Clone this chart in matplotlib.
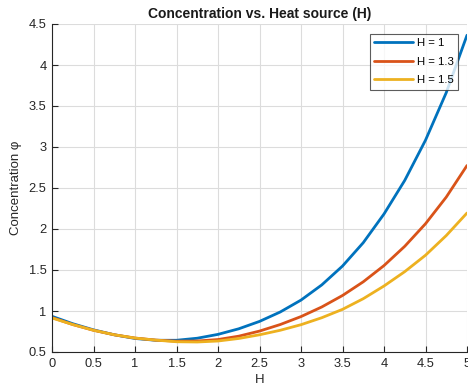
"""
Concentration vs. Heat source (H)
"""
import numpy as np
from matplotlib import pyplot as plt

plt.rcParams['font.family'] = ['Liberation Sans', 'DejaVu Sans']

h = [0, 0.25, 0.5, 0.75, 1, 1.25, 1.5, 1.75, 2, 2.25, 2.5,
     2.75, 3, 3.25, 3.5, 3.75, 4, 4.25, 4.5, 4.75, 5]

phi_h1 = [0.935, 0.845, 0.77, 0.71, 0.665, 0.643, 0.643, 0.668, 0.715, 0.783, 0.873,
          0.988, 1.133, 1.318, 1.548, 1.833, 2.183, 2.593, 3.083, 3.663, 4.363]
phi_h13 = [0.92, 0.835, 0.765, 0.71, 0.67, 0.645, 0.632, 0.634, 0.652, 0.693, 0.755,
           0.835, 0.932, 1.049, 1.189, 1.356, 1.554, 1.789, 2.064, 2.389, 2.774]
phi_h15 = [0.915, 0.835, 0.765, 0.71, 0.67, 0.645, 0.625, 0.622, 0.634, 0.665, 0.71,
           0.765, 0.833, 0.918, 1.02, 1.15, 1.305, 1.48, 1.68, 1.92, 2.195]

labels = ['H = 1', 'H = 1.3', 'H = 1.5']
colors = ['#0072BD', '#D95319', '#EDB120']

xticks = [0, 0.5, 1, 1.5, 2, 2.5, 3, 3.5, 4, 4.5, 5]
xticklabels = ['0', '0.5', '1', '1.5', '2', '2.5', '3', '3.5', '4', '4.5', '5']
yticks = [0.5, 1, 1.5, 2, 2.5, 3, 3.5, 4, 4.5]
yticklabels = ['0.5', '1', '1.5', '2', '2.5', '3', '3.5', '4', '4.5']

fig = plt.figure(figsize=(4.68, 3.91), dpi=100)
ax = fig.add_axes([52 / 468, 1 - 352 / 391, 415 / 468, 328 / 391])

for y, lab, c in zip([phi_h1, phi_h13, phi_h15], labels, colors):
    ax.plot(h, y, color=c, lw=2.0, label=lab,
            solid_joinstyle='round', solid_capstyle='round')

ax.set_xlim(0, 5)
ax.set_ylim(0.5, 4.5)
ax.set_xticks(xticks)
ax.set_xticklabels(xticklabels)
ax.set_yticks(yticks)
ax.set_yticklabels(yticklabels)
ax.tick_params(direction='in', length=4, width=0.8, colors='#262626',
               labelsize=9.3, labelcolor='#262626', pad=4)
ax.grid(True, color='#dcdcdc', lw=0.8)
ax.set_axisbelow(True)
for s in ['top', 'right']:
    ax.spines[s].set_visible(False)
for s in ['left', 'bottom']:
    ax.spines[s].set_color('#262626')
    ax.spines[s].set_linewidth(0.8)

ax.set_title('Concentration vs. Heat source (H)', fontsize=10, fontweight='bold',
             color='#1a1a1a', pad=4)
ax.set_xlabel('H', fontsize=9.5, color='#262626', labelpad=3)
ax.set_ylabel('Concentration φ', fontsize=9.5, color='#262626', labelpad=5)

leg = ax.legend(loc='upper right', bbox_to_anchor=(406 / 415, 1 - 9.5 / 328),
                fontsize=8.2, frameon=True, fancybox=False, handlelength=3.4,
                borderpad=0.4, labelspacing=0.75, handletextpad=0.3,
                borderaxespad=0)
leg.get_frame().set_edgecolor('#333333')
leg.get_frame().set_linewidth(0.8)

plt.savefig('out.png', dpi=100)
